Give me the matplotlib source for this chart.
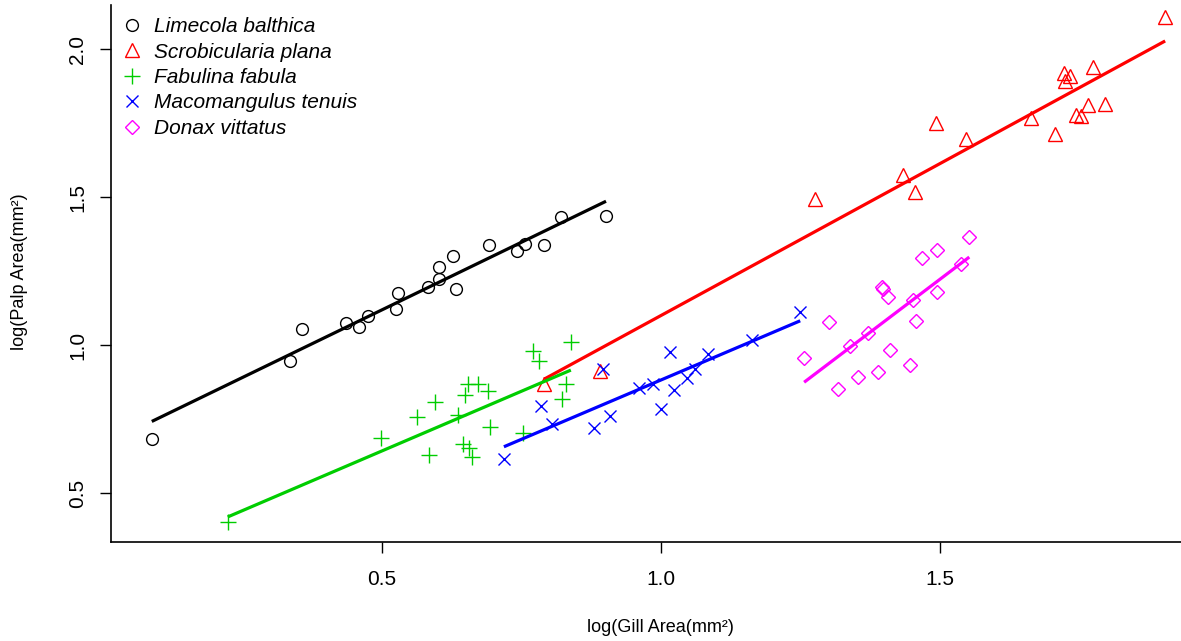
import matplotlib as mpl
import matplotlib.pyplot as plt
from matplotlib.lines import Line2D
import numpy as np

plt.rcParams['font.family'] = ['Liberation Sans', 'DejaVu Sans']

# data (log gill area, log palp area)
limecola_x = [0.088, 0.336, 0.357, 0.436, 0.459, 0.475, 0.525, 0.530, 0.583, 0.602,
              0.603, 0.628, 0.634, 0.693, 0.742, 0.757, 0.791, 0.822, 0.902]
limecola_y = [0.684, 0.946, 1.054, 1.076, 1.060, 1.099, 1.122, 1.175, 1.195, 1.222,
              1.264, 1.300, 1.191, 1.338, 1.318, 1.342, 1.338, 1.434, 1.437]

scrob_x = [0.791, 0.891, 1.277, 1.434, 1.455, 1.493, 1.548, 1.663, 1.707, 1.722,
           1.734, 1.725, 1.744, 1.753, 1.765, 1.774, 1.796, 1.904]
scrob_y = [0.868, 0.913, 1.493, 1.575, 1.516, 1.751, 1.696, 1.766, 1.713, 1.920,
           1.910, 1.892, 1.777, 1.774, 1.810, 1.940, 1.814, 2.107]

fabulina_x = [0.224, 0.499, 0.563, 0.596, 0.584, 0.636, 0.645, 0.657, 0.662, 0.649,
              0.655, 0.673, 0.691, 0.694, 0.753, 0.772, 0.782, 0.839, 0.830, 0.824]
fabulina_y = [0.402, 0.688, 0.759, 0.809, 0.629, 0.764, 0.665, 0.653, 0.621, 0.832,
              0.868, 0.868, 0.846, 0.723, 0.705, 0.981, 0.947, 1.011, 0.868, 0.817]

macom_x = [0.719, 0.785, 0.806, 0.881, 0.909, 0.897, 0.961, 0.986, 1.000, 1.023,
           1.017, 1.047, 1.061, 1.084, 1.163, 1.250]
macom_y = [0.615, 0.795, 0.733, 0.719, 0.761, 0.919, 0.857, 0.869, 0.786, 0.849,
           0.976, 0.890, 0.919, 0.969, 1.018, 1.111]

donax_x = [1.257, 1.302, 1.317, 1.354, 1.339, 1.372, 1.389, 1.396, 1.399, 1.408,
           1.411, 1.446, 1.452, 1.458, 1.468, 1.495, 1.496, 1.539, 1.553]
donax_y = [0.956, 1.077, 0.851, 0.892, 0.998, 1.040, 0.908, 1.198, 1.190, 1.164,
           0.984, 0.933, 1.153, 1.082, 1.295, 1.181, 1.321, 1.273, 1.366]

species = ["Limecola balthica", "Scrobicularia plana", "Fabulina fabula",
           "Macomangulus tenuis", "Donax vittatus"]
xs = [limecola_x, scrob_x, fabulina_x, macom_x, donax_x]
ys = [limecola_y, scrob_y, fabulina_y, macom_y, donax_y]
colors = ["black", "#FF0000", "#00CD00", "#0000FF", "#FF00FF"]
markers = ["o", "^", "+", "x", "D"]
msizes = [8.5, 10, 11, 9, 7]

fig = plt.figure(figsize=(11.81, 6.41), dpi=100)
ax = fig.add_axes([111 / 1181, 99 / 641, 1070 / 1181, 537 / 641])

handles = []
for i in range(len(species)):
    x = np.array(xs[i])
    y = np.array(ys[i])
    ax.plot(x, y, linestyle="none", marker=markers[i], markersize=msizes[i],
            markerfacecolor="none", markeredgecolor=colors[i], markeredgewidth=1.0)
    # least squares line over the range of each species
    b, a = np.polyfit(x, y, 1)
    xx = np.array([x.min(), x.max()])
    ax.plot(xx, a + b * xx, color=colors[i], linewidth=2.3, solid_capstyle="butt")
    handles.append(Line2D([], [], linestyle="none", marker=markers[i], markersize=msizes[i],
                          markerfacecolor="none", markeredgecolor=colors[i], markeredgewidth=1.0))

ax.set_xlim(0.0149, 1.9324)
ax.set_ylim(0.3356, 2.1486)
ax.set_xticks([0.5, 1.0, 1.5])
ax.set_yticks([0.5, 1.0, 1.5, 2.0])
ax.set_xticklabels(["0.5", "1.0", "1.5"])
ax.set_yticklabels(["0.5", "1.0", "1.5", "2.0"], rotation=90, va="center")
ax.tick_params(labelsize=15, length=8, width=1.0)
ax.tick_params(axis="x", pad=12)
ax.tick_params(axis="y", pad=9)
ax.spines["top"].set_visible(False)
ax.spines["right"].set_visible(False)
ax.spines["left"].set_linewidth(1.2)
ax.spines["bottom"].set_linewidth(1.2)

leg = ax.legend(handles, species, loc="upper left", bbox_to_anchor=(-2 / 1070, 1.0),
                frameon=False, borderpad=0, borderaxespad=0.58, handlelength=1.0,
                handletextpad=0.6, labelspacing=0.31, prop={"size": 15, "style": "italic"})

fig.text(660 / 1181, 1 - 627 / 641, "log(Gill Area(mm²)", ha="center", va="center", fontsize=13)
fig.text(20 / 1181, 1 - 272 / 641, "log(Palp Area(mm²)", ha="center", va="center",
         fontsize=13, rotation=90)

plt.savefig("out.png", dpi=100)
